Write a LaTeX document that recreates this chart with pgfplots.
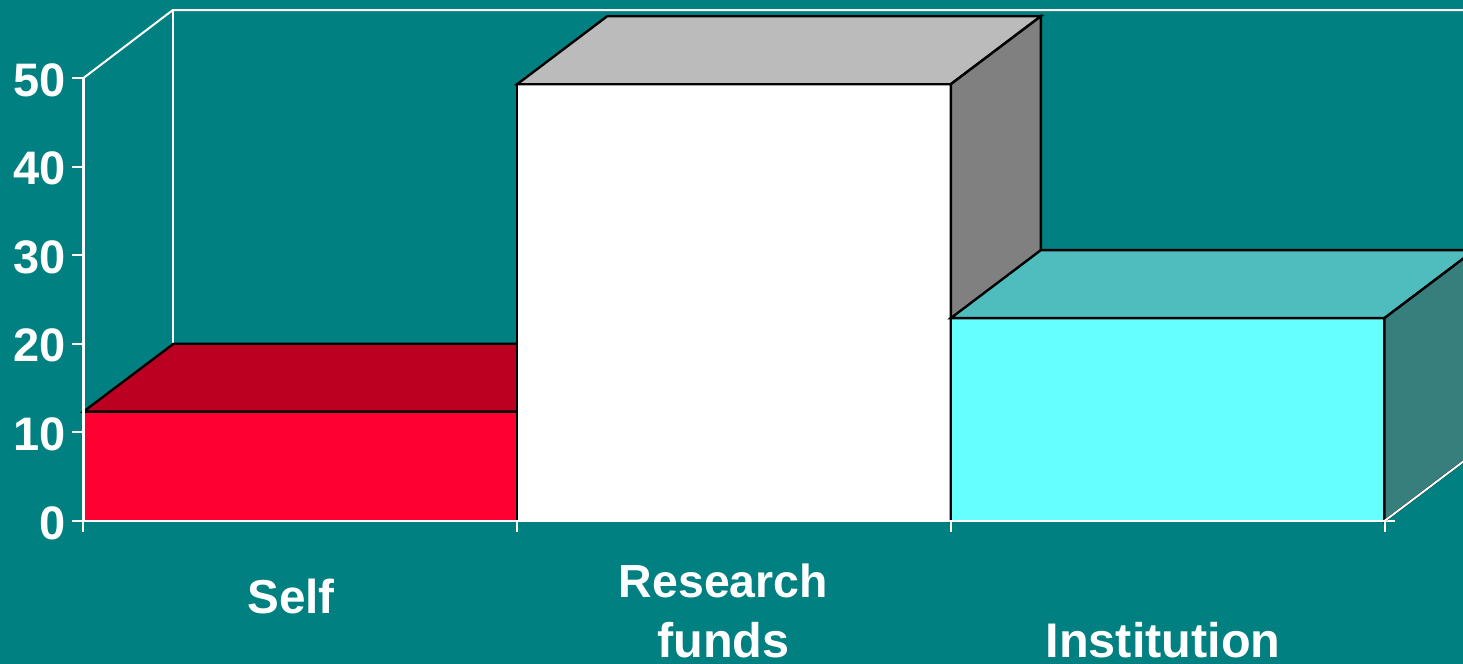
\documentclass[border=0pt]{standalone}
\usepackage{pgfplots}
\pgfplotsset{compat=1.18}
\usepackage{fontspec}
\setmainfont{Liberation Sans}
\definecolor{bg}{HTML}{008080}
\definecolor{redF}{HTML}{FF0033}
\definecolor{redT}{HTML}{BC0022}
\definecolor{greyT}{HTML}{BBBBBB}
\definecolor{greyS}{HTML}{808080}
\definecolor{cyanF}{HTML}{66FFFF}
\definecolor{cyanT}{HTML}{4FBDBD}
\definecolor{cyanS}{HTML}{377F7D}
\begin{document}
\begin{tikzpicture}[x=1pt,y=1pt]
\path[use as bounding box] (0,0) rectangle (731.5,332);
\clip (0,0) rectangle (731.5,332);
\fill[bg] (0,0) rectangle (731.5,332);
\begin{axis}[
  at={(41.75pt,71.5pt)}, anchor=south west,
  scale only axis, width=650.5pt, height=221.5pt,
  xmin=0, xmax=3, ymin=0, ymax=50,
  clip=false, axis on top=true,
  axis x line*=bottom, axis y line*=left,
  axis line style={white, line width=1.1pt, -},
  tick align=outside,
  tick style={white, line width=1pt},
  ytick={0,10,20,30,40,50},
  major tick length=5.5pt,
  minor tick length=5.5pt,
  minor xtick={0,1,2,3},
  xtick={0.474,1.471,2.485},
  major x tick style={draw=none},
  xticklabels={\raisebox{22pt}{\fontsize{23.8}{27}\selectfont Self},\shortstack{\fontsize{23.2}{27}\selectfont Research\\[9pt]\fontsize{24.3}{27}\selectfont funds},\fontsize{24.3}{27}\selectfont Institution},
  /pgf/number format/assume math mode=true,
  tick label style={font=\fontsize{23.5}{27}\selectfont\bfseries, text=white},
  xticklabel style={anchor=base, xshift=1pt, yshift=-62.6pt},
  yticklabel style={yshift=-1pt},
]
% walls
\addplot[white, line width=1pt] coordinates {(0,50) (0.206,57.67) (3.2075,57.67)};
\addplot[white, line width=1pt] coordinates {(0.206,57.67) (0.206,7.67)};
\addplot[white, line width=1pt] coordinates {(3,0) (3.025,0)};
% Self
\addplot[fill=redF, draw=black, line width=1.2pt] coordinates {(0,0) (0,12.35) (1,12.35) (1,0)} -- cycle;
\addplot[fill=redT, draw=black, line width=1.2pt] coordinates {(0,12.35) (0.2075,20.0) (1.2075,20.0) (1,12.35)} -- cycle;
% Research funds
\addplot[fill=white, draw=black, line width=1.2pt] coordinates {(1,0) (1,49.3) (2,49.3) (2,0)} -- cycle;
\addplot[fill=greyT, draw=black, line width=1.2pt] coordinates {(1,49.3) (1.2075,56.97) (2.2075,56.97) (2,49.3)} -- cycle;
\addplot[fill=greyS, draw=black, line width=1.2pt] coordinates {(2,0) (2.2075,7.67) (2.2075,56.97) (2,49.3)} -- cycle;
% Institution
\addplot[fill=cyanF, draw=black, line width=1.2pt] coordinates {(2,0) (2,22.9) (3,22.9) (3,0)} -- cycle;
\addplot[fill=cyanT, draw=black, line width=1.2pt] coordinates {(2,22.9) (2.2075,30.57) (3.2075,30.57) (3,22.9)} -- cycle;
\addplot[fill=cyanS, draw=black, line width=1.2pt] coordinates {(3,0) (3.2075,7.67) (3.2075,30.57) (3,22.9)} -- cycle;
\addplot[white, line width=1pt] coordinates {(3,0) (3.2075,7.67)};
\end{axis}
\end{tikzpicture}
\end{document}
